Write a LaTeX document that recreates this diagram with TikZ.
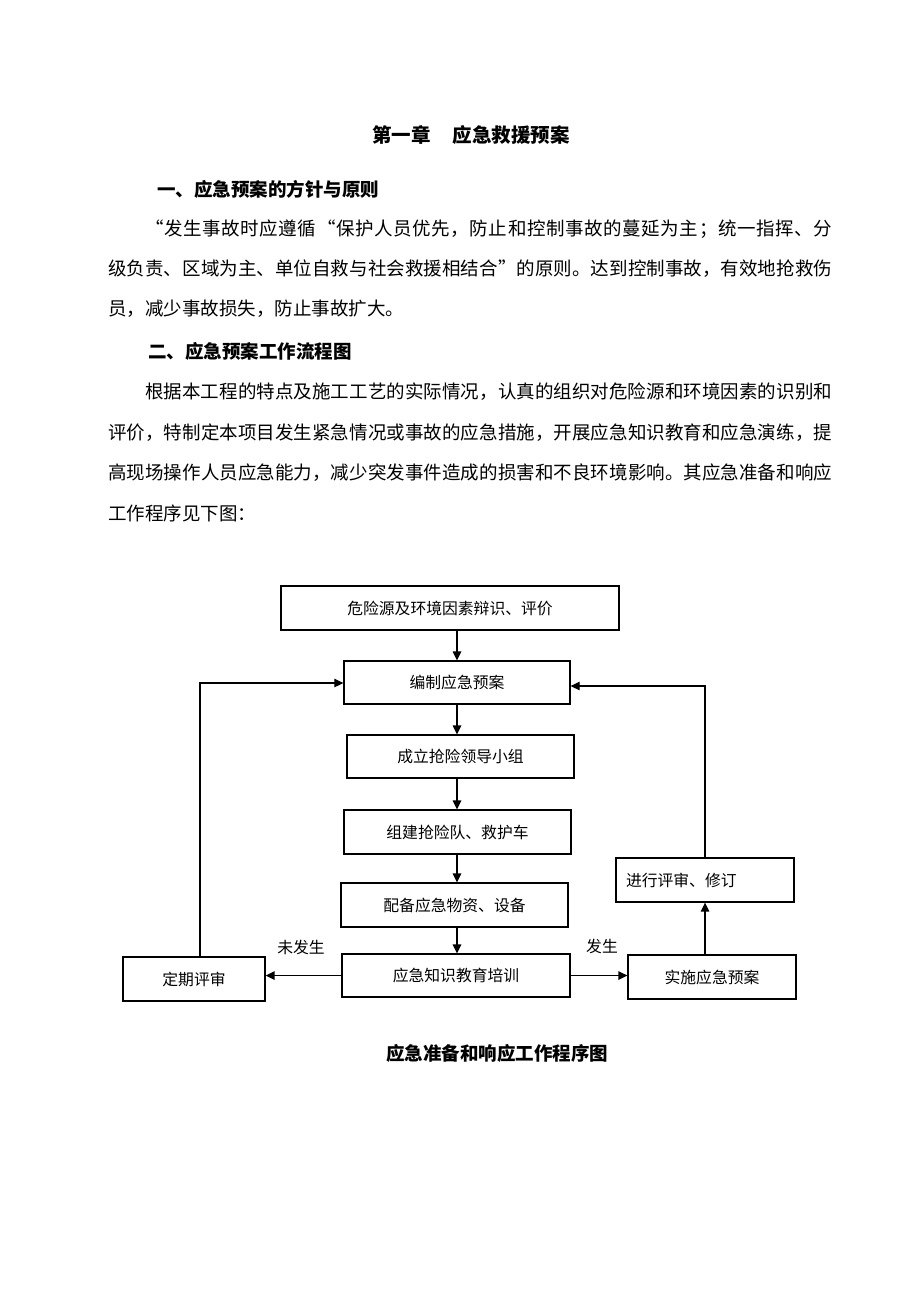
\documentclass[tikz,border=0pt]{standalone}
\usepackage{fontspec}
\setmainfont{Noto Sans CJK SC}
\usetikzlibrary{arrows.meta}
\def\jlgob#1{}
\def\jlx#1#2{#1\ifx#2\relax\expandafter\jlgob\else\hfil\expandafter\jlx\fi#2}
\newcommand\jl[2]{\hbox to #1{\jlx#2\relax\relax}}
\begin{document}
\begin{tikzpicture}[x=1pt,y=-1pt,
  box/.style={draw, line width=1.3pt, inner sep=0pt, font=\fontsize{15.8}{18}\selectfont},
  arr/.style={line width=1.4pt, -{Triangle[length=9pt,width=8.5pt]}},
  fb/.style={line width=1.2pt, -{Triangle[length=9pt,width=8.5pt]}},
  para/.style={anchor=west, inner sep=0pt, font=\fontsize{18.5}{22}\selectfont},
  head/.style={anchor=west, inner sep=0pt, font=\fontsize{18.5}{22}\selectfont\bfseries},
  lbl/.style={inner sep=0pt, font=\fontsize{15.8}{18}\selectfont}]
\fill[white] (0,0) rectangle (920,1302);
\useasboundingbox (0,0) rectangle (920,1302);

% texts
\node[anchor=west, inner sep=0pt, font=\fontsize{19.5}{22}\selectfont\bfseries] (title) at (372,135) {第一章\hspace{22pt}应急救援预案};
\node[head] (h1) at (157,189) {一、应急预案的方针与原则};
\node[para] (p1a) at (145,229) {\jl{687pt}{“发生事故时应遵循“保护人员优先，防止和控制事故的蔓延为主；统一指挥、分}};
\node[para] (p1b) at (108,269) {\jl{724pt}{级负责、区域为主、单位自救与社会救援相结合”的原则。达到控制事故，有效地抢救伤}};
\node[para] (p1c) at (108,309) {员，减少事故损失，防止事故扩大。};
\node[head] (h2) at (148,351) {二、应急预案工作流程图};
\node[para] (p2a) at (145,392) {\jl{687pt}{根据本工程的特点及施工工艺的实际情况，认真的组织对危险源和环境因素的识别和}};
\node[para] (p2b) at (108,432.5) {\jl{724pt}{评价，特制定本项目发生紧急情况或事故的应急措施，开展应急知识教育和应急演练，提}};
\node[para] (p2c) at (108,473) {\jl{724pt}{高现场操作人员应急能力，减少突发事件造成的损害和不良环境影响。其应急准备和响应}};
\node[para] (p2d) at (108,513.5) {工作程序见下图：};

% boxes
\node[box, minimum width=338pt, minimum height=44pt] (b1) at (450,608) {危险源及环境因素辩识、评价};
\node[box, minimum width=226pt, minimum height=43pt] (b2) at (457,682.5) {编制应急预案};
\node[box, minimum width=227pt, minimum height=43pt] (b3) at (460.5,756.5) {成立抢险领导小组};
\node[box, minimum width=227pt, minimum height=44pt] (b4) at (457.5,832) {组建抢险队、救护车};
\node[box, minimum width=227pt, minimum height=44pt] (b5) at (454.5,905) {配备应急物资、设备};
\node[box, minimum width=228pt, minimum height=43pt] (b6) at (456,975.5) {应急知识教育培训};
\node[box, minimum width=142pt, minimum height=44pt] (b7) at (194,979) {定期评审};
\node[box, minimum width=168pt, minimum height=44pt] (b8) at (712,977) {实施应急预案};
\node[box, minimum width=178pt, minimum height=44pt, text width=158pt, inner xsep=10pt, align=left] (b9) at (705,880) {进行评审、修订};

\node[lbl] (n1) at (301,947) {未发生};
\node[lbl] (n2) at (602,946) {发生};

% connectors
\draw[arr] (b1.south -| b2.north) -- (b2.north);
\draw[arr] (b2.south) -- (b3.north -| b2.south);
\draw[arr] (b3.south -| b2.south) -- (b4.north -| b2.south);
\draw[arr] (b4.south -| b2.south) -- (b5.north -| b2.south);
\draw[arr] (b5.south -| b2.south) -- (b6.north -| b2.south);
\draw[arr] (b6.west) -- (b7.east |- b6.west);
\draw[arr] (b6.east) -- (b8.west |- b6.east);
\draw[arr] (b8.north -| b9.south) -- (b9.south);
\coordinate (L) at (200,683);
\coordinate (R) at (705,686);
\draw[fb] (b7.north -| L) -- (L) -- (b2.west |- L);
\draw[fb] (b9.north) -- (b9.north |- R) -- (b2.east |- R);

\node[anchor=center, inner sep=0pt, font=\fontsize{18.5}{22}\selectfont\bfseries] (cap) at (497,1053) {应急准备和响应工作程序图};
\end{tikzpicture}
\end{document}
